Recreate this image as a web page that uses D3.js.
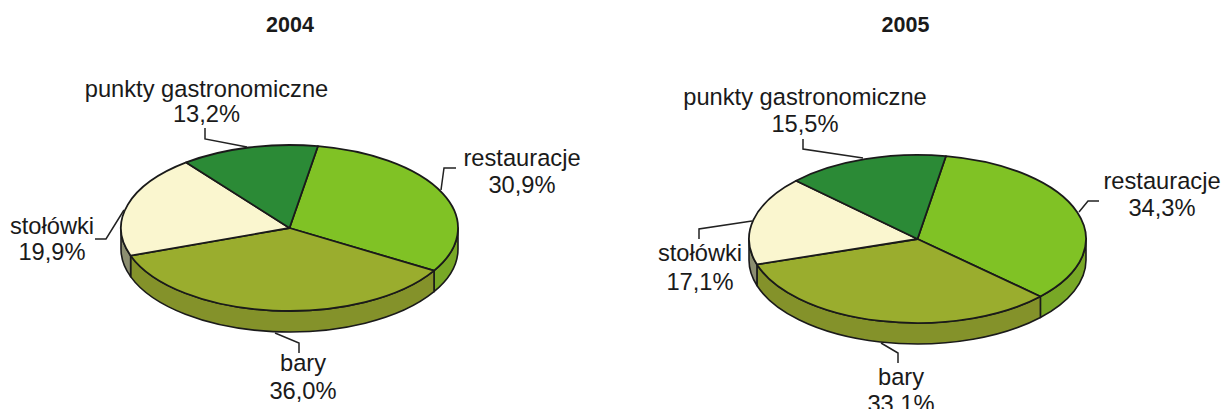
<!DOCTYPE html>
<html>
<head>
<meta charset="utf-8">
<script src="https://cdn.jsdelivr.net/npm/d3@7"></script>
<style>
  html, body { margin: 0; background: #fff; }
  text { font-family: "Liberation Sans", Arial, sans-serif; fill: #1a1a1a; }
</style>
</head>
<body>
<svg id="chart"></svg>
<script>
let width = 1225, height = 409;

// data, in drawing order clockwise from the first slice
let categories = ["restauracje", "bary", "stołówki", "punkty gastronomiczne"];
let years = ["2004", "2005"];
let values2004 = [30.9, 36.0, 19.9, 13.2];
let values2005 = [34.3, 33.1, 17.1, 15.5];

let topColors = ["#80c225", "#9aad2e", "#faf6cf", "#2b8a36"];
let sideColors = ["#78a826", "#84922a", "#8c8e70", "#1f6a2a"];

// pie placement
let pieBoxes = [
  {cx: 289.5, cy: 228, rx: 168.5, ry: 83, depth: 21, title: 290},
  {cx: 917.5, cy: 239, rx: 168.5, ry: 84, depth: 21, title: 905.5}
];
// label placement and leader lines, same order as categories
let labelBoxes2004 = [
  {x: 522, y: 165.5, gap: 27, leader: [[441, 190], [444, 168], [456, 168]]},
  {x: 303, y: 371, gap: 28, leader: [[275, 333], [299, 343], [299, 353]]},
  {x: 52, y: 234, gap: 26, leader: [[124, 210], [106, 239], [95, 239]]},
  {x: 206.5, y: 96.5, gap: 25, leader: [[205, 128], [205, 139], [247, 147]]}
];
let labelBoxes2005 = [
  {x: 1162, y: 189, gap: 27, leader: [[1079, 212], [1088, 201], [1099, 201]]},
  {x: 901, y: 385, gap: 27, leader: [[881, 343], [898, 353], [898, 363]]},
  {x: 700, y: 261, gap: 29, leader: [[752, 221], [699, 229], [699, 239]]},
  {x: 805, y: 105, gap: 27, leader: [[803, 139], [803, 149], [863, 158]]}
];

let svg = d3.select("#chart")
  .attr("width", width)
  .attr("height", height);

let pie = d3.pie()
  .sort(null)
  .startAngle(9.7 * Math.PI / 180)
  .endAngle(369.7 * Math.PI / 180);

let fmt = v => v.toFixed(1).replace(".", ",") + "%";

function drawPie(values, box, labels, year) {
  let g = svg.append("g");
  let slices = pie(values);
  let px = a => box.cx + box.rx * Math.sin(a);
  let py = a => box.cy - box.ry * Math.cos(a);

  // side wall, only the part between 3 and 9 o'clock is visible
  slices.forEach((s, i) => {
    let a0 = Math.max(s.startAngle, Math.PI / 2);
    let a1 = Math.min(s.endAngle, 3 * Math.PI / 2);
    if (a1 <= a0) return;
    let d = `M${px(a0)},${py(a0)}`
      + `A${box.rx},${box.ry} 0 0 1 ${px(a1)},${py(a1)}`
      + `L${px(a1)},${py(a1) + box.depth}`
      + `A${box.rx},${box.ry} 0 0 0 ${px(a0)},${py(a0) + box.depth}Z`;
    g.append("path")
      .attr("d", d)
      .attr("fill", sideColors[i])
      .attr("stroke", "#1a1a1a")
      .attr("stroke-width", 1.6)
      .attr("stroke-linejoin", "round");
  });

  // top face, a circular arc squashed to an ellipse
  let arc = d3.arc().innerRadius(0).outerRadius(box.rx);
  g.append("g")
    .attr("transform", `translate(${box.cx}, ${box.cy}) scale(1, ${box.ry / box.rx})`)
    .selectAll("path")
    .data(slices)
    .join("path")
    .attr("d", arc)
    .attr("fill", (d, i) => topColors[i])
    .attr("stroke", "#1a1a1a")
    .attr("stroke-width", 1.8)
    .attr("stroke-linejoin", "round")
    .attr("vector-effect", "non-scaling-stroke");

  let line = d3.line();
  labels.forEach((l, i) => {
    g.append("path")
      .attr("d", line(l.leader))
      .attr("fill", "none")
      .attr("stroke", "#222")
      .attr("stroke-width", 1.5);
    g.append("text")
      .text(categories[i])
      .attr("x", l.x)
      .attr("y", l.y)
      .attr("text-anchor", "middle")
      .attr("font-size", 23.7);
    g.append("text")
      .text(fmt(values[i]))
      .attr("x", l.x)
      .attr("y", l.y + l.gap)
      .attr("text-anchor", "middle")
      .attr("font-size", 23.7);
  });

  svg.append("text")
    .text(year)
    .attr("x", box.title)
    .attr("y", 32)
    .attr("text-anchor", "middle")
    .attr("font-size", 21.5)
    .attr("font-weight", "bold");
}

drawPie(values2004, pieBoxes[0], labelBoxes2004, years[0]);
drawPie(values2005, pieBoxes[1], labelBoxes2005, years[1]);
</script>
</body>
</html>
